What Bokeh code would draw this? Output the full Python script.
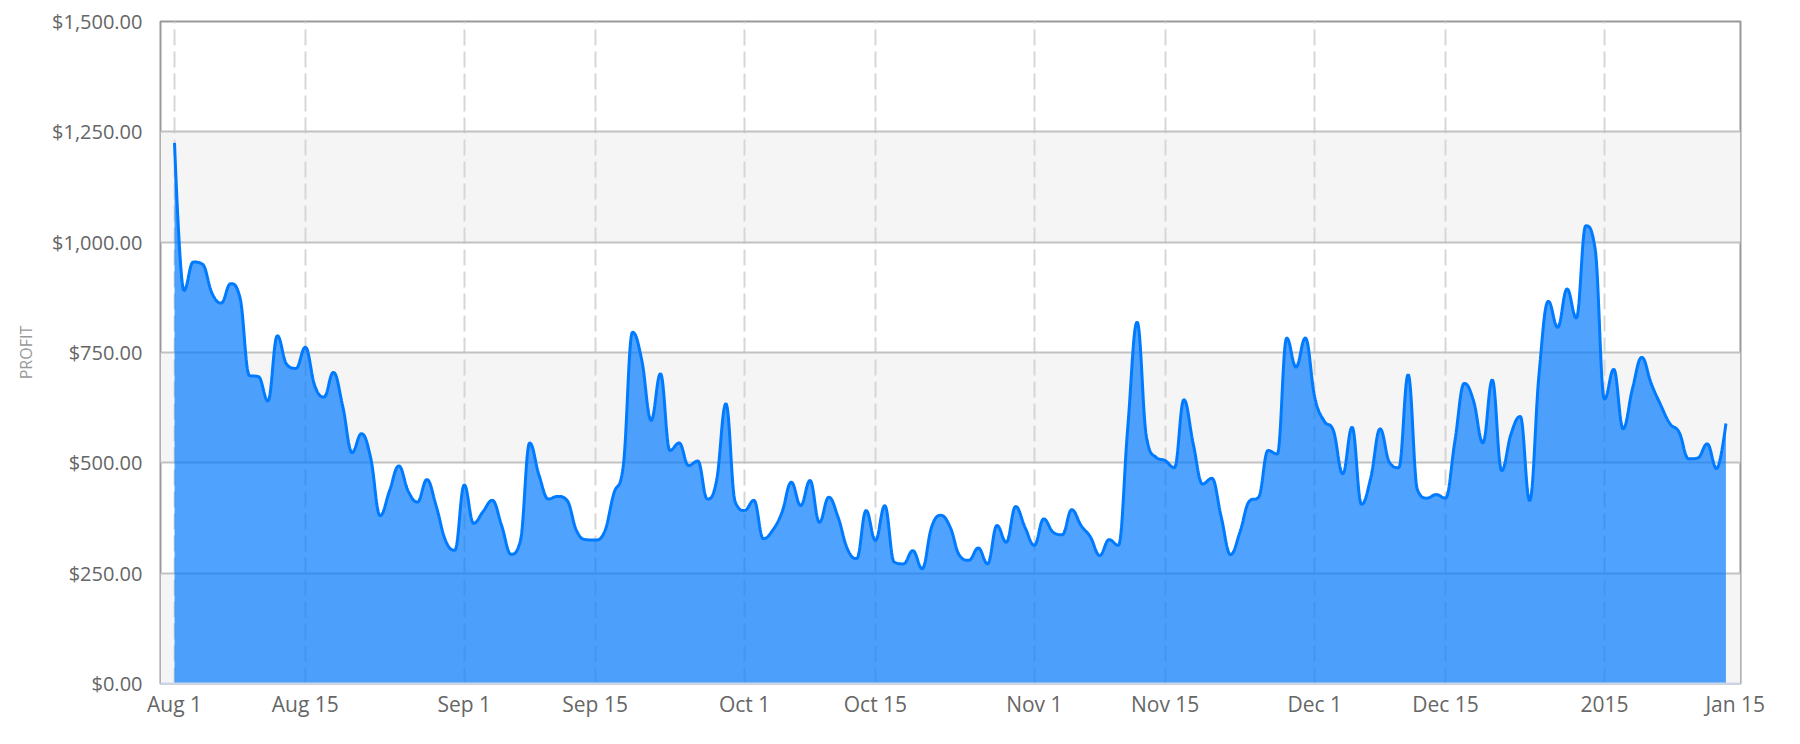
import numpy as np
from bokeh.plotting import figure
from bokeh.models import FixedTicker, NumeralTickFormatter, BoxAnnotation, Range1d
from bokeh.embed import file_html
from bokeh.resources import INLINE

# ---------------- data ----------------
start_date = "2014-08-01"
profit = [
    1225, 890, 955, 950, 885, 862, 906, 875, 698, 695,
    640, 788, 723, 714, 762, 675, 649, 705, 628, 523,
    566, 510, 380, 436, 493, 436, 411, 462, 402, 324,
    302, 450, 363, 389, 415, 358, 293, 322, 545, 472,
    418, 424, 415, 347, 326, 325, 343, 430, 490, 796,
    732, 596, 702, 528, 545, 494, 504, 418, 460, 634,
    411, 392, 415, 328, 347, 388, 456, 403, 460, 365,
    422, 377, 305, 283, 392, 324, 403, 275, 271, 301,
    260, 354, 381, 354, 290, 279, 307, 271, 358, 320,
    401, 354, 313, 373, 343, 337, 394, 358, 332, 290,
    326, 313, 581, 819, 558, 513, 505, 489, 643, 543,
    452, 465, 377, 292, 343, 413, 422, 528, 520, 783,
    717, 783, 649, 595, 573, 475, 581, 406, 466, 577,
    501, 489, 700, 438, 420, 428, 420, 549, 680, 640,
    545, 688, 482, 565, 605, 414, 700, 866, 807, 894,
    828, 1037, 986, 644, 712, 577, 668, 739, 680, 632,
    589, 569, 509, 511, 543, 487, 589,
]
tick_dates = ["2014-08-01", "2014-08-15", "2014-09-01", "2014-09-15",
              "2014-10-01", "2014-10-15", "2014-11-01", "2014-11-15",
              "2014-12-01", "2014-12-15", "2015-01-01", "2015-01-15"]
tick_labels = ["Aug 1", "Aug 15", "Sep 1", "Sep 15", "Oct 1", "Oct 15",
               "Nov 1", "Nov 15", "Dec 1", "Dec 15", "2015", "Jan 15"]
y_ticks = [0, 250, 500, 750, 1000, 1250, 1500]
y_title = "PROFIT"

# ---------------- helpers ----------------
DAY = 86400000.0
base_ms = float(np.datetime64(start_date, "ms").astype(np.int64))
xs_days = np.arange(len(profit), dtype=float)
ys = np.array(profit, dtype=float)
tick_ms = [float(np.datetime64(d, "ms").astype(np.int64)) for d in tick_dates]


def spline(xs, ys, smoothing=1.5, n=16):
    """Smooth cubic-bezier curve through the points (spline series style)."""
    N = len(xs)
    lc = [None] * N
    rc = [None] * N
    den = smoothing + 1
    for i in range(1, N - 1):
        px, py = xs[i], ys[i]
        lx, ly = xs[i - 1], ys[i - 1]
        nx, ny = xs[i + 1], ys[i + 1]
        lcx = (smoothing * px + lx) / den
        lcy = (smoothing * py + ly) / den
        rcx = (smoothing * px + nx) / den
        rcy = (smoothing * py + ny) / den
        corr = ((rcy - lcy) * (rcx - px)) / (rcx - lcx) + py - rcy
        lcy += corr
        rcy += corr
        if lcy > ly and lcy > py:
            lcy = max(ly, py); rcy = 2 * py - lcy
        elif lcy < ly and lcy < py:
            lcy = min(ly, py); rcy = 2 * py - lcy
        if rcy > ny and rcy > py:
            rcy = max(ny, py); lcy = 2 * py - rcy
        elif rcy < ny and rcy < py:
            rcy = min(ny, py); lcy = 2 * py - rcy
        lc[i] = (lcx, lcy)
        rc[i] = (rcx, rcy)
    t = np.linspace(0, 1, n + 1)[1:]
    ox = [xs[0]]
    oy = [ys[0]]
    for i in range(1, N):
        p0 = (xs[i - 1], ys[i - 1])
        p3 = (xs[i], ys[i])
        c0 = rc[i - 1] if rc[i - 1] is not None else p0
        c1 = lc[i] if lc[i] is not None else p3
        a, b, c, d = (1 - t) ** 3, 3 * (1 - t) ** 2 * t, 3 * (1 - t) * t ** 2, t ** 3
        ox.extend(a * p0[0] + b * c0[0] + c * c1[0] + d * p3[0])
        oy.extend(a * p0[1] + b * c0[1] + c * c1[1] + d * p3[1])
    return np.array(ox), np.array(oy)


sx, sy = spline(xs_days, ys)
sx_ms = base_ms + sx * DAY

# ---------------- figure ----------------
p = figure(
    frame_width=1580, frame_height=662,
    min_border_left=160, min_border_right=44, min_border_top=21, min_border_bottom=45,
    x_axis_type="datetime",
    x_range=Range1d(base_ms - 1.5 * DAY, base_ms + 167.56 * DAY),
    y_range=Range1d(0, 1500),
    output_backend="svg", toolbar_location=None,
    background_fill_color="white", border_fill_color="white",
)
p.outline_line_color = "#999999"
p.outline_line_width = 2

# alternating bands
for i in range(0, len(y_ticks) - 1, 2):
    p.add_layout(BoxAnnotation(bottom=y_ticks[i], top=y_ticks[i + 1],
                               fill_color="#f5f5f5", fill_alpha=1.0,
                               line_alpha=0, level="image"))

# grids
p.ygrid.ticker = FixedTicker(ticks=y_ticks)
p.ygrid.grid_line_color = "#c2c2c2"
p.ygrid.grid_line_width = 2
p.xgrid.ticker = FixedTicker(ticks=tick_ms[:-1])
p.xgrid.grid_line_color = "#d6d6d6"
p.xgrid.grid_line_width = 2
p.xgrid.grid_line_dash = "16 6"

# area + line
p.varea(x=sx_ms, y1=0, y2=sy, fill_color="#007aff", fill_alpha=0.69)
p.line(x=sx_ms, y=sy, line_color="#007aff", line_width=3)

# axes
xa = p.xaxis[0]
xa.ticker = FixedTicker(ticks=tick_ms)
xa.major_label_overrides = {t: l for t, l in zip(tick_ms, tick_labels)}
xa.axis_line_color = "#ccd6eb"
xa.axis_line_width = 2
xa.major_tick_line_color = None
xa.minor_tick_line_color = None
xa.major_label_standoff = 0
xa.major_label_text_font = "Open Sans"
xa.major_label_text_font_size = "21px"
xa.major_label_text_color = "#666666"

ya = p.yaxis[0]
ya.ticker = FixedTicker(ticks=y_ticks)
ya.formatter = NumeralTickFormatter(format="$0,0.00")
ya.axis_line_color = None
ya.major_tick_line_color = None
ya.minor_tick_line_color = None
ya.major_tick_out = 0
ya.major_tick_in = 0
ya.major_label_standoff = 18
ya.major_label_text_font = "Open Sans"
ya.major_label_text_font_size = "20px"
ya.major_label_text_color = "#666666"
ya.axis_label = y_title
ya.axis_label_text_font = "Open Sans"
ya.axis_label_text_font_size = "16px"
ya.axis_label_text_font_style = "normal"
ya.axis_label_text_color = "#999999"
ya.axis_label_standoff = 12

open("out.html", "w").write(file_html(p, INLINE))
